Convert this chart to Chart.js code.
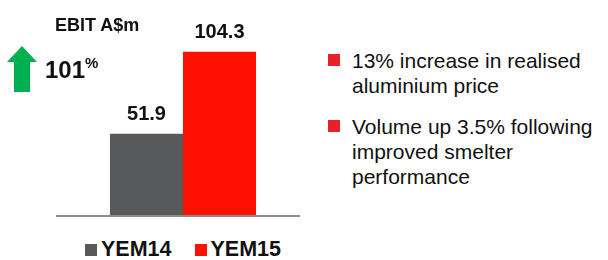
<!DOCTYPE html>
<html>
<head>
<meta charset="utf-8">
<script src="https://cdn.jsdelivr.net/npm/chart.js@4/dist/chart.umd.min.js"></script>
<style>
    body { margin: 0; background: #fff; font-family: "Liberation Sans", Arial, sans-serif; }
    #wrap { position: relative; width: 608px; height: 260px; overflow: hidden; }
    #chart-box { position: absolute; left: 0; top: 0; width: 310px; height: 230px; }
    .title { position: absolute; left: 55px; top: 15px; font-weight: bold; font-size: 18px; color: #111; }
    .growth { position: absolute; left: 45px; top: 55px; font-weight: bold; font-size: 24px; color: #111; }
    .growth sup { font-size: 15px; position: relative; top: -1px; }
    .legend { position: absolute; top: 237px; left: 85px; font-weight: bold; font-size: 21.5px; color: #111; white-space: nowrap; }
    .legend span.box { display: inline-block; width: 12px; height: 12px; margin-right: 4px; }
    .legend span.item { margin-right: 23px; }
    .bullets { position: absolute; left: 328px; top: 48px; font-size: 21px; line-height: 25px; color: #111; }
    .bullet { position: relative; padding-left: 24px; margin-bottom: 16px; }
    .bullet::before { content: ""; position: absolute; left: 0; top: 6px; width: 12px; height: 12px; background: #e8202a; }
</style>
</head>
<body>
<div id="wrap">
    <div id="chart-box"><canvas id="ebit"></canvas></div>
    <div class="title">EBIT A$m</div>
    <svg style="position:absolute;left:7px;top:46px" width="31" height="47">
        <polygon points="15,0 30,16 23,16 23,46 7,46 7,16 0,16" fill="#00b050"/>
    </svg>
    <div class="growth">101<sup>%</sup></div>
    <div class="legend" id="legend"></div>
    <div class="bullets" id="bullets"></div>
</div>
<script>
// data
const periods = ['YEM14', 'YEM15']
const ebitValues = [51.9, 104.3]
const barColors = ['#58595b', '#ff1100']
const notes = [
    '13% increase in realised<br>aluminium price',
    'Volume up 3.5% following<br>improved smelter<br>performance'
]

// plugins
const valueLabels = {
    id: 'valueLabels',
    afterDatasetsDraw(chart) {
        const ctx = chart.ctx
        ctx.save()
        ctx.font = 'bold 20px "Liberation Sans", Arial, sans-serif'
        ctx.fillStyle = '#111'
        ctx.textAlign = 'center'
        ctx.textBaseline = 'middle'
        chart.data.datasets.forEach((ds, i) => {
            const bar = chart.getDatasetMeta(i).data[0]
            ctx.fillText(ds.data[0].toFixed(1), bar.x, bar.y - 19)
        })
        ctx.restore()
    }
}

const baseline = {
    id: 'baseline',
    afterDatasetsDraw(chart) {
        const ctx = chart.ctx
        const y = chart.scales.y.getPixelForValue(0)
        ctx.save()
        ctx.strokeStyle = '#8c8c8c'
        ctx.lineWidth = 2
        ctx.beginPath()
        ctx.moveTo(chart.chartArea.left, y + 1)
        ctx.lineTo(chart.chartArea.right - 10, y + 1)
        ctx.stroke()
        ctx.restore()
    }
}

const chart = new Chart(document.getElementById('ebit'), {
    type: 'bar',
    data: {
        labels: ['EBIT'],
        datasets: periods.map((p, i) => ({
            label: p,
            data: [ebitValues[i]],
            backgroundColor: barColors[i],
            barPercentage: 1,
            categoryPercentage: 0.575
        }))
    },
    options: {
        responsive: true,
        maintainAspectRatio: false,
        animation: false,
        layout: { padding: { left: 56, top: 10, bottom: 15, right: 0 } },
        plugins: { legend: { display: false }, tooltip: { enabled: false } },
        scales: {
            x: { display: false },
            y: { display: false, min: 0, max: 131 }
        }
    },
    plugins: [valueLabels, baseline]
})

// legend + bullet text
document.getElementById('legend').innerHTML = periods
    .map((p, i) => `<span class="item"><span class="box" style="background:${barColors[i]}"></span>${p}</span>`)
    .join('')
document.getElementById('bullets').innerHTML = notes
    .map(n => `<div class="bullet">${n}</div>`)
    .join('')
</script>
</body>
</html>
